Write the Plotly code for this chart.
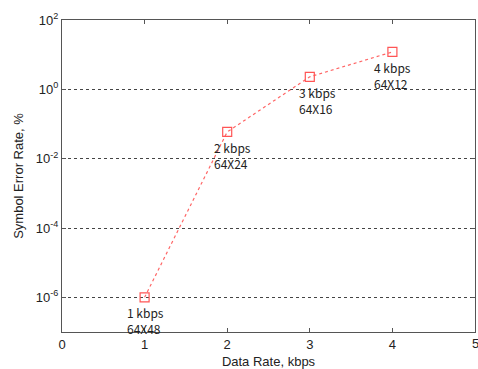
import math
import plotly.graph_objects as go

data_rate = [1, 2, 3, 4]
ser = [1e-6, 0.059, 2.3, 12]
rate_labels = ["1 kbps", "2 kbps", "3 kbps", "4 kbps"]
config_labels = ["64X48", "64X24", "64X16", "64X12"]
label_dx = [-20, -15, -13, -20]
ytick_vals = [1e-6, 1e-4, 1e-2, 1, 1e2]
ytick_text = ["10<sup>-6</sup>", "10<sup>-4</sup>", "10<sup>-2</sup>", "10<sup>0</sup>", "10<sup>2</sup>"]
xtick_vals = [0, 1, 2, 3, 4, 5]

fig = go.Figure()
fig.add_trace(go.Scatter(
    x=data_rate, y=ser, mode="lines+markers",
    line=dict(color="#ff6666", width=1.2, dash="dot"),
    marker=dict(symbol="square-open", size=9, color="#ff5555", line=dict(width=1.2)),
    showlegend=False,
))
lab_font = dict(family="Noto Sans CJK KR, Noto Sans", size=12, color="#222")
for x, y, t1, t2, dx in zip(data_rate, ser, rate_labels, config_labels, label_dx):
    fig.add_annotation(x=x, y=math.log10(y), text=t1 + "<br>" + t2, showarrow=False,
                       xanchor="left", yanchor="top", xshift=dx, yshift=-5,
                       align="left", font=lab_font)
# last x tick label at the very right edge (partly cut, as in the reference)
fig.add_annotation(x=xtick_vals[-1], y=0, yref="paper", text=str(xtick_vals[-1]),
                   showarrow=False, xanchor="center", yanchor="top", yshift=-2,
                   font=dict(family="Liberation Sans, Arial", size=13, color="#222"))

fig.update_layout(
    width=478, height=369,
    margin=dict(l=62, r=3, t=20, b=37),
    paper_bgcolor="white", plot_bgcolor="white",
    font=dict(family="Liberation Sans, Arial", size=13, color="#222"),
)
fig.update_xaxes(
    range=[0, 5], tickvals=xtick_vals[:-1], showgrid=False, zeroline=False,
    showline=True, linecolor="#555", linewidth=1, mirror="ticks",
    ticks="inside", ticklen=4, tickcolor="#555", automargin=False,
    title=dict(text="Data Rate, kbps", standoff=7, font=dict(size=13)),
)
fig.update_yaxes(
    type="log", range=[-7, 2], tickvals=ytick_vals, ticktext=ytick_text,
    showgrid=True, gridcolor="#444", griddash="dot", gridwidth=1,
    zeroline=False, automargin=False,
    showline=True, linecolor="#555", linewidth=1, mirror="ticks",
    ticks="inside", ticklen=4, tickcolor="#555",
    title=dict(text="Symbol Error Rate, %", standoff=9, font=dict(size=13)),
)
fig.write_html("out.html", config={"displayModeBar": False},
               post_script="document.body.style.margin='0';document.body.style.overflow='hidden';")
